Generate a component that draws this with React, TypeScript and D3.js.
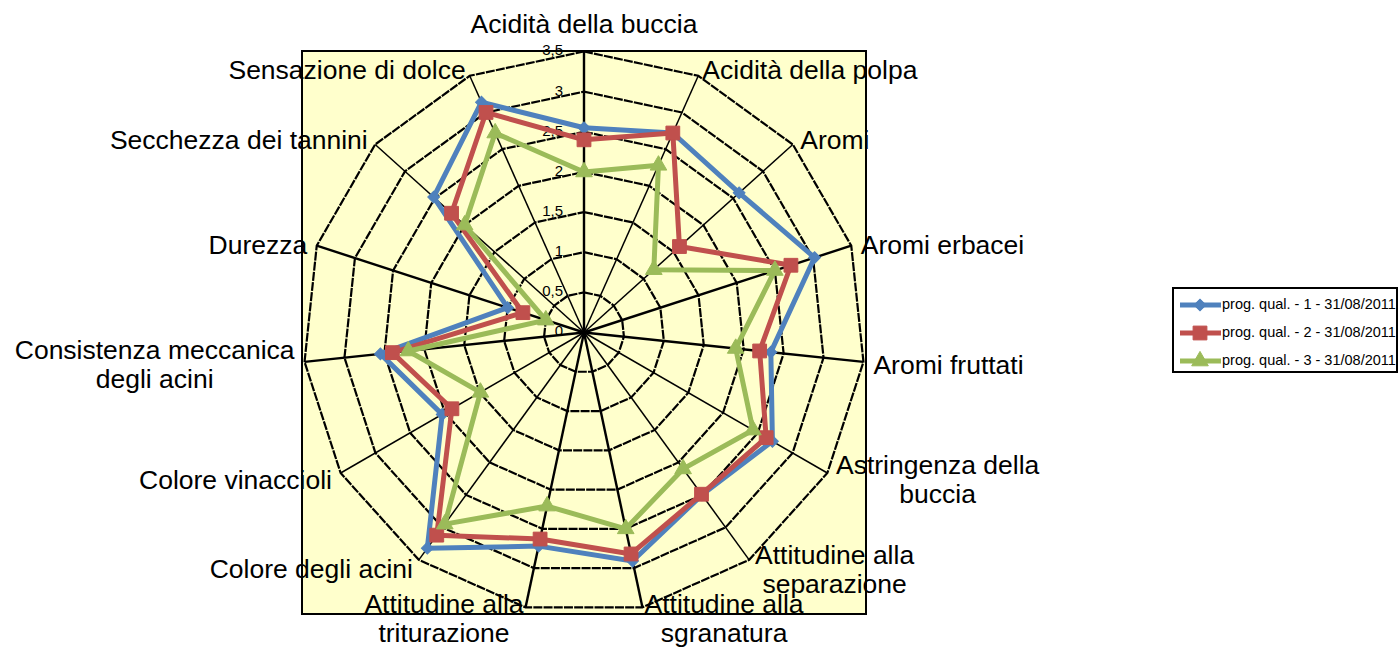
import * as d3 from "d3";

const categories = [
  "Acidità della buccia",
  "Acidità della polpa",
  "Aromi",
  "Aromi erbacei",
  "Aromi fruttati",
  "Astringenza della\nbuccia",
  "Attitudine alla\nseparazione",
  "Attitudine alla\nsgranatura",
  "Attitudine alla\ntriturazione",
  "Colore degli acini",
  "Colore vinaccioli",
  "Consistenza meccanica\ndegli acini",
  "Durezza",
  "Secchezza dei tannini",
  "Sensazione di dolce",
];

const serie1 = [2.55, 2.72, 2.6, 3.02, 2.34, 2.71, 2.5, 2.91, 2.72, 3.32, 2.04, 2.55, 1.0, 2.52, 3.14];
const serie2 = [2.4, 2.72, 1.6, 2.71, 2.2, 2.62, 2.49, 2.82, 2.63, 3.12, 1.9, 2.4, 0.8, 2.22, 3.0];
const serie3 = [2.0, 2.28, 1.17, 2.5, 1.9, 2.43, 2.1, 2.5, 2.21, 2.95, 1.49, 2.2, 0.5, 2.0, 2.72];

const seriesNames = [
  "prog. qual. - 1 - 31/08/2011",
  "prog. qual. - 2 - 31/08/2011",
  "prog. qual. - 3 - 31/08/2011",
];

const tickValues = [0, 0.5, 1, 1.5, 2, 2.5, 3, 3.5];
const tickLabels = ["0", "0,5", "1", "1,5", "2", "2,5", "3", "3,5"];

const FONT = "'Liberation Sans', Arial, sans-serif";
const colors = ["#4F81BD", "#C0504D", "#9BBB59"];
const markerKinds = ["diamond", "square", "triangle"];

let measureCtx: CanvasRenderingContext2D | null = null;
function textWidth(t: string, size: number) {
  if (!measureCtx) measureCtx = document.createElement("canvas").getContext("2d");
  if (!measureCtx) return t.length * size * 0.5;
  measureCtx.font = `${size}px ${FONT}`;
  return measureCtx.measureText(t).width;
}

function markerPath(kind: string) {
  if (kind === "square") return d3.symbol(d3.symbolSquare, 190)() ?? "";
  if (kind === "triangle") return d3.symbol(d3.symbolTriangle, 120)() ?? "";
  return d3.symbol(d3.symbolSquare, 70)() ?? "";
}

function Marker({ kind, x, y, color }: { kind: string; x: number; y: number; color: string }) {
  const rot = kind === "diamond" ? " rotate(45)" : "";
  return <path d={markerPath(kind)} transform={`translate(${x},${y})${rot}`} fill={color} stroke={color} strokeWidth={1} />;
}

export default function App() {
  const width = 1400;
  const height = 649;
  const cx = 584;
  const cy = 332.5;
  const R = 281;
  const n = categories.length;

  const rScale = d3.scaleLinear().domain([0, 3.5]).range([0, R]);
  const angle = d3.scaleLinear().domain([0, n]).range([0, 2 * Math.PI]);

  // same radial line for grid rings and series
  const radialLine = d3
    .lineRadial<number>()
    .angle((_, i) => angle(i))
    .radius((d) => rScale(d))
    .curve(d3.curveLinearClosed);

  const allSeries = [serie1, serie2, serie3];
  const labelSize = 26.5;
  const lineH = 29;

  return (
    <svg
      width={width}
      height={height}
      style={{ position: "absolute", left: 0, top: 0, background: "#fff" }}
      fontFamily={FONT}
    >
      <rect x={cx - R - 1} y={cy - R - 0.5} width={2 * R + 2} height={2 * R + 1} fill="#FFFFCC" stroke="#000" strokeWidth={2} />

      <g transform={`translate(${cx},${cy})`}>
        {tickValues.slice(1).map((t) => (
          <path
            key={`ring-${t}`}
            d={radialLine(categories.map(() => t)) ?? ""}
            fill="none"
            stroke="#000"
            strokeWidth={2.2}
            strokeDasharray="9 1.2"
          />
        ))}
        {categories.map((_, i) => {
          const [x, y] = d3.pointRadial(angle(i), R);
          const a = angle(i) % (Math.PI / 2);
          const diag = Math.min(a, Math.PI / 2 - a) > 0.4;
          return <line key={`spoke-${i}`} x1={0} y1={0} x2={x} y2={y} stroke="#000" strokeWidth={diag ? 1.5 : 2.4} />;
        })}

        {tickValues.map((t, i) => (
          <text
            key={`tick-${t}`}
            x={-21}
            y={-rScale(t)}
            textAnchor="end"
            dominantBaseline="middle"
            fontSize={15}
            fill="#000"
          >
            {tickLabels[i]}
          </text>
        ))}

        {allSeries.map((s, si) => (
          <g key={`series-${si}`}>
            <path d={radialLine(s) ?? ""} fill="none" stroke={colors[si]} strokeWidth={5} strokeLinejoin="round" />
            {s.map((v, i) => {
              const [x, y] = d3.pointRadial(angle(i), rScale(v));
              return <Marker key={`m-${si}-${i}`} kind={markerKinds[si]} x={x} y={y} color={colors[si]} />;
            })}
          </g>
        ))}

        {categories.map((c, i) => {
          const a = angle(i);
          const [vx, vy] = d3.pointRadial(a, R);
          const s = Math.sin(a);
          const co = Math.cos(a);
          const lines = c.split("\n");
          const widths = lines.map((l) => textWidth(l, labelSize));
          const blockW = Math.max(...widths);
          let centerX: number;
          let yc: number;
          if (Math.abs(s) < 0.05) {
            centerX = vx;
            yc = vy - 28;
          } else if (s > 0) {
            centerX = vx + 10 * s + blockW / 2;
            yc = vy - 9 * co + 2;
          } else {
            centerX = vx + 10 * s - blockW / 2;
            yc = vy - 9 * co + 2;
          }
          const firstY = yc - ((lines.length - 1) * lineH) / 2;
          return (
            <text key={`lab-${i}`} textAnchor="middle" fontSize={labelSize} fill="#000">
              {lines.map((l, li) => (
                <tspan key={li} x={centerX} y={firstY + li * lineH + 9}>
                  {l}
                </tspan>
              ))}
            </text>
          );
        })}
      </g>

      <g transform="translate(1173,288)">
        <rect x={0} y={0} width={224} height={84} fill="#fff" stroke="#000" strokeWidth={2} />
        {seriesNames.map((name, i) => {
          const y = 17 + i * 28;
          return (
            <g key={`leg-${i}`}>
              <line x1={7} x2={48} y1={y} y2={y} stroke={colors[i]} strokeWidth={5} />
              <Marker kind={markerKinds[i]} x={27} y={y} color={colors[i]} />
              <text x={49} y={y} dominantBaseline="middle" fontSize={14.5} fill="#000">
                {name}
              </text>
            </g>
          );
        })}
      </g>
    </svg>
  );
}
